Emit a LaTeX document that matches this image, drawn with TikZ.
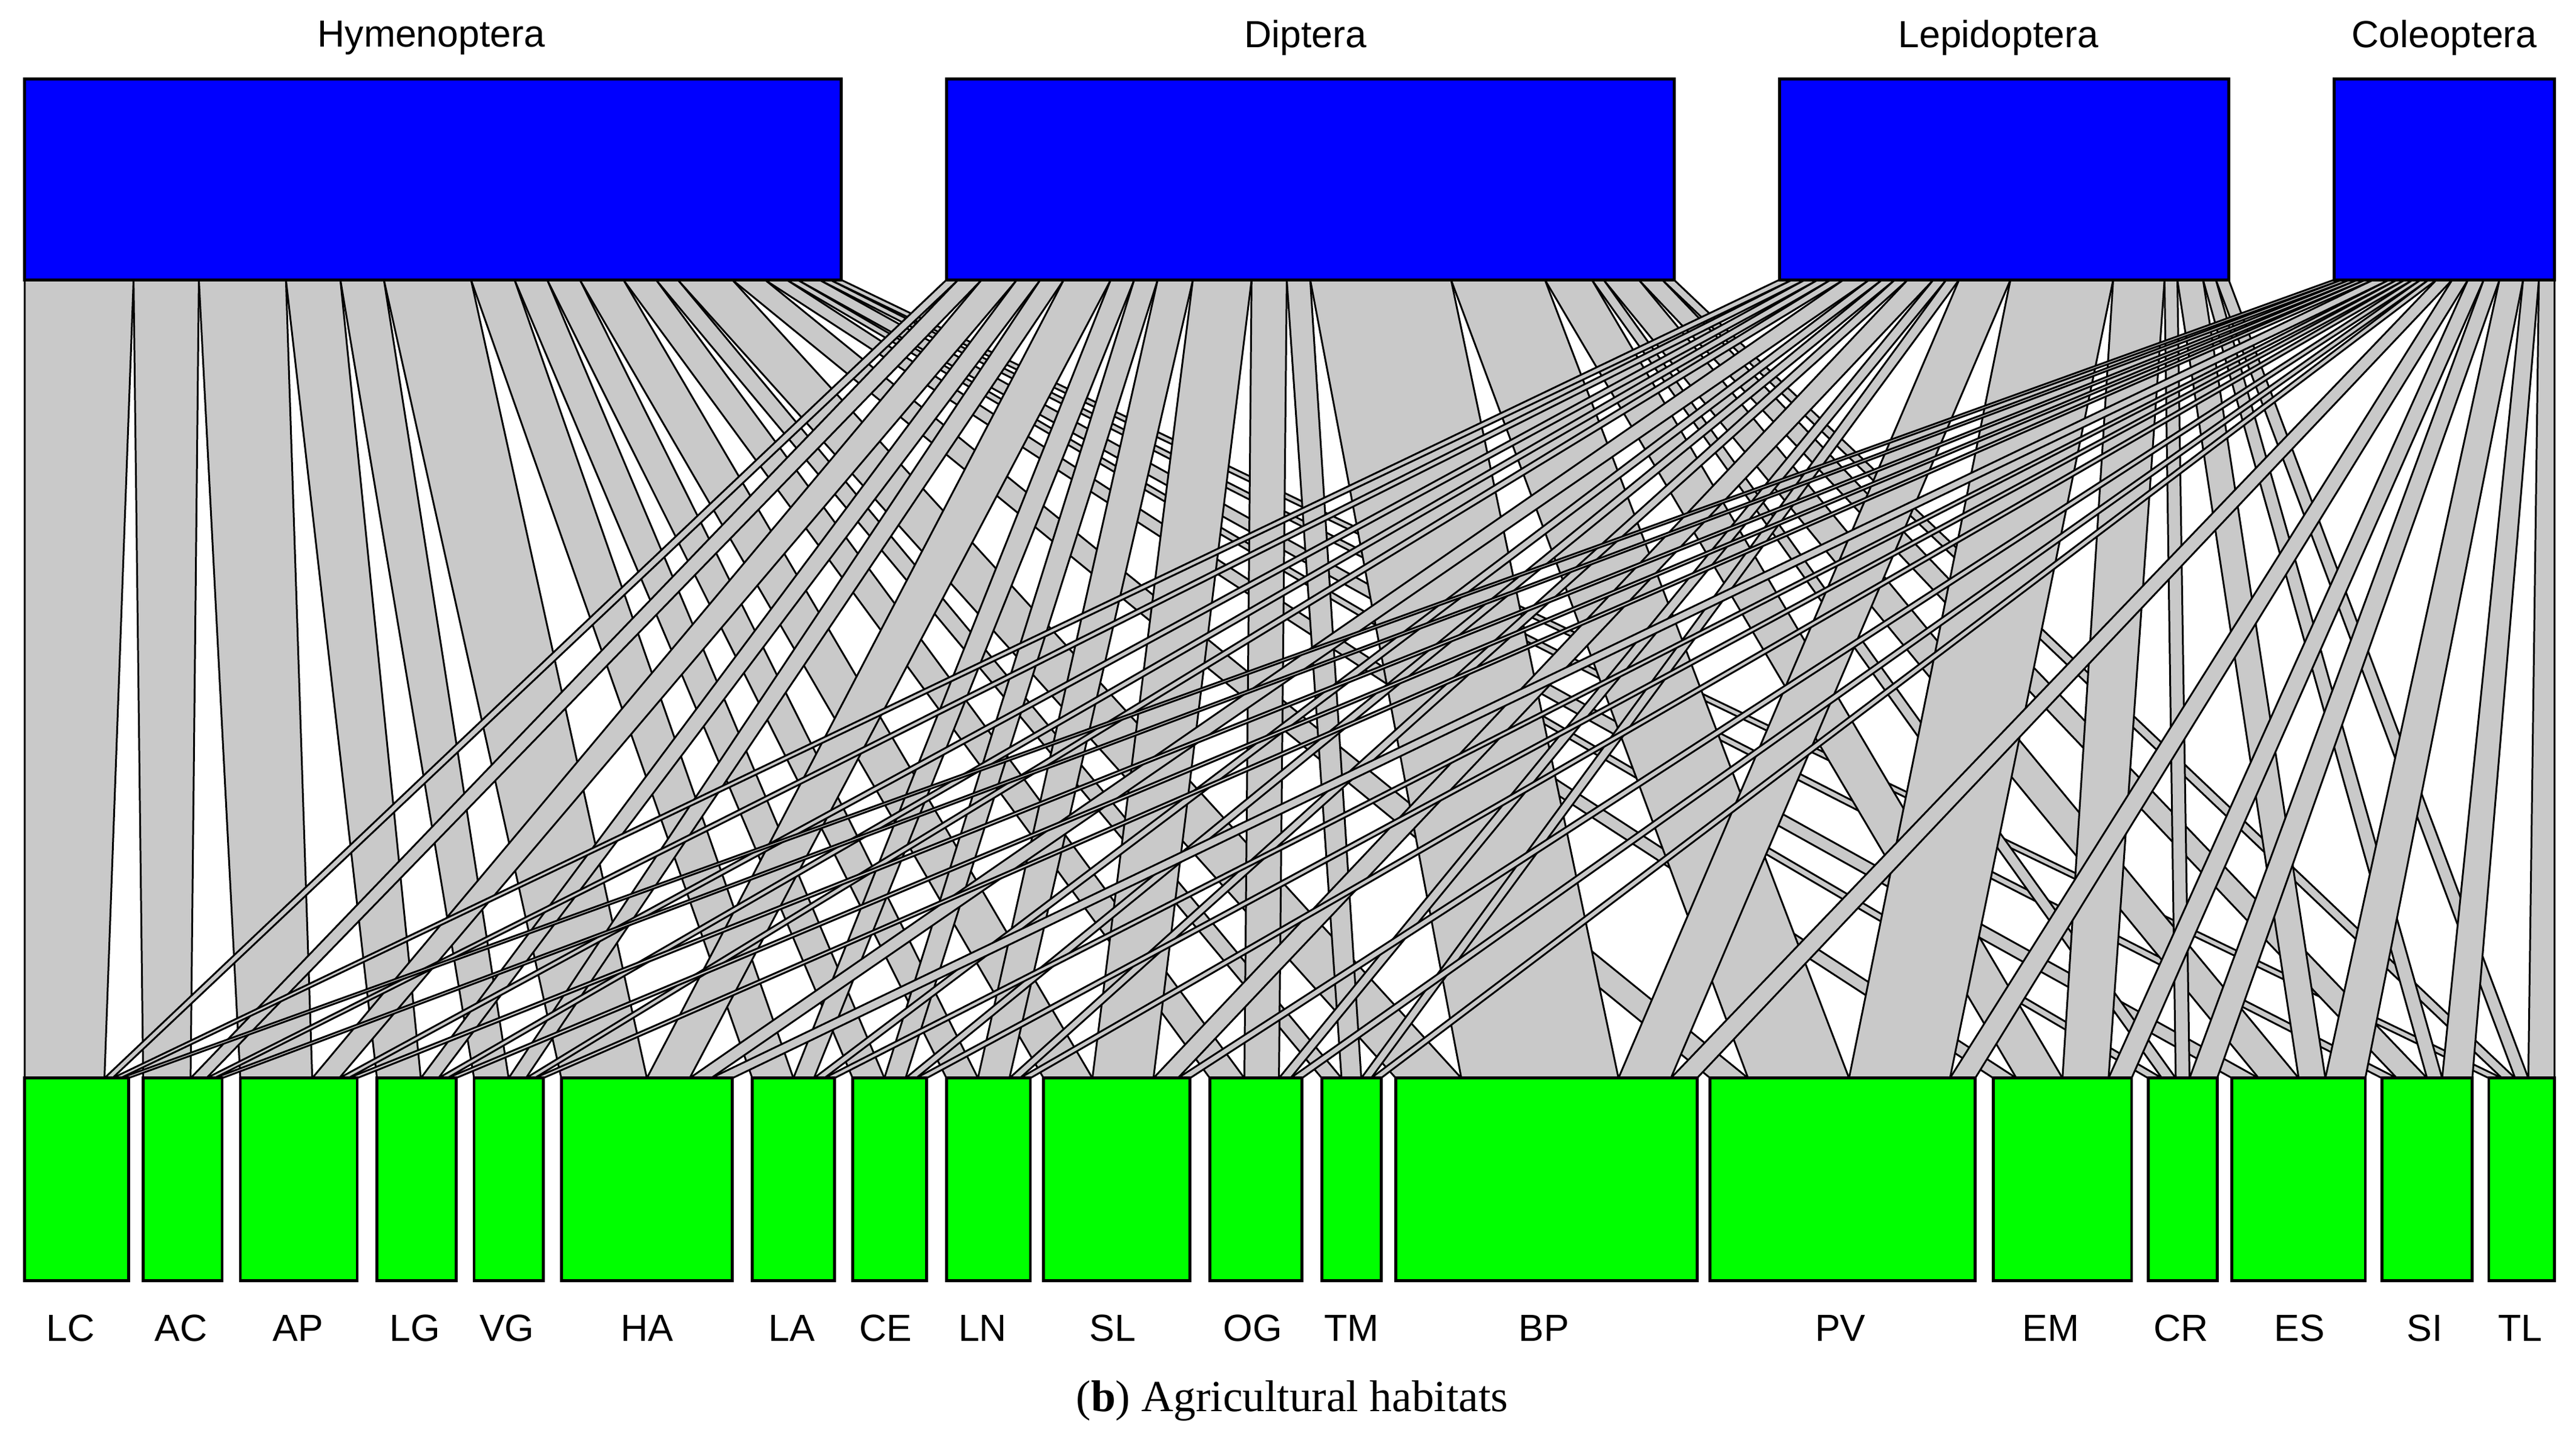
\documentclass[tikz,border=0pt]{standalone}
\usepackage{fontspec}
\setmainfont{Liberation Serif}
\newfontfamily\lab{Liberation Sans}
\begin{document}
\begin{tikzpicture}[x=1pt,y=-1pt,
  link/.style={fill=black!21,draw=black,line width=1.1pt},
  topbox/.style={draw=black,line width=1.8pt,fill={rgb,255:red,0;green,0;blue,255},inner sep=0pt,minimum height=122pt},
  botbox/.style={draw=black,line width=1.8pt,fill={rgb,255:red,0;green,255;blue,0},inner sep=0pt,minimum height=123pt},
  lbl/.style={font=\lab\fontsize{23}{26}\selectfont,inner sep=0pt}]
\useasboundingbox (0,0) rectangle (1565,876);
\def\Wt{{10,1,1,1, 6,2,1,1, 8,3,1,1, 5,2,1,1, 4,2,1,1, 8,4,2,2, 4,2,1,1, 3,2,1,1, 3,3,1,1, 4,5,2,1, 3,3,1,1, 2,2,1,1, 5,12,4,2, 3,8,8,2, 2,4,4,2, 1,1,1,2, 2,3,2,3, 1,2,1,2, 1,1,1,2}}
\def\BL{{15,87,146,229,288,341,457,518,575,634,735,803,848,1039,1211,1305,1356,1447,1512}}
\def\BR{{78,135,217,277,330,445,507,563,626,723,791,839,1031,1200,1295,1347,1437,1502,1552}}
\def\TL{{15,575,1081,1418}}
\def\TR{{511,1017,1354,1552}}
\foreach \j in {0,...,18}{\xdef\s{0}
  \foreach \i in {0,...,3}{\pgfmathsetmacro\t{\s+\Wt[\j*4+\i]}\xdef\s{\t}}
  \expandafter\xdef\csname cs\j\endcsname{\s}}
\foreach \i in {0,...,3}{\xdef\s{0}
  \foreach \j in {0,...,18}{\pgfmathsetmacro\t{\s+\Wt[\j*4+\i]}\xdef\s{\t}}
  \expandafter\xdef\csname rs\i\endcsname{\s}}
\foreach \j in {0,...,18}{\pgfmathsetmacro\c{\BL[\j]}\xdef\cur{\c}
  \pgfmathsetmacro\wd{\BR[\j]-\BL[\j]}\xdef\wdd{\wd}
  \edef\cs{\csname cs\j\endcsname}
  \foreach \i in {0,...,3}{\pgfmathsetmacro\n{\cur+\wdd*\Wt[\j*4+\i]/\cs}
    \expandafter\xdef\csname bl\i-\j\endcsname{\cur}
    \expandafter\xdef\csname br\i-\j\endcsname{\n}\xdef\cur{\n}}}
\foreach \i in {0,...,3}{\pgfmathsetmacro\c{\TL[\i]}\xdef\cur{\c}
  \pgfmathsetmacro\wd{\TR[\i]-\TL[\i]}\xdef\wdd{\wd}
  \edef\rs{\csname rs\i\endcsname}
  \foreach \j in {0,...,18}{\pgfmathsetmacro\n{\cur+\wdd*\Wt[\j*4+\i]/\rs}
    \expandafter\xdef\csname tl\i-\j\endcsname{\cur}
    \expandafter\xdef\csname tr\i-\j\endcsname{\n}\xdef\cur{\n}}}
\foreach \i in {0,...,3}{\foreach \j in {0,...,18}{
  \edef\a{\csname tl\i-\j\endcsname}\edef\b{\csname tr\i-\j\endcsname}
  \edef\c{\csname br\i-\j\endcsname}\edef\d{\csname bl\i-\j\endcsname}
  \draw[link] (\a,170) -- (\b,170) -- (\c,655) -- (\d,655) -- cycle;}}
\foreach \n/\l/\r/\x in {Hymenoptera/15/511/262,Diptera/575/1017/793,Lepidoptera/1081/1354/1214,Coleoptera/1418/1552/1485}{
  \node[topbox,minimum width={\r-\l}] (\n) at ({(\l+\r)/2},109) {};
  \node[lbl] (\n-t) at (\x,23) {\n};}
\foreach \n/\l/\r/\x in {LC/15/78/43,AC/87/135/110,AP/146/217/181,LG/229/277/252,VG/288/330/308,HA/341/445/393,LA/457/507/481,CE/518/563/538,LN/575/626/597,SL/634/723/676,OG/735/791/761,TM/803/839/821,BP/848/1031/938,PV/1039/1200/1118,EM/1211/1295/1246,CR/1305/1347/1325,ES/1356/1437/1397,SI/1447/1502/1473,TL/1512/1552/1531}{
  \node[botbox,minimum width={\r-\l}] (\n) at ({(\l+\r)/2},716.5) {};
  \node[lbl] (\n-t) at (\x,807) {\n};}
\node[font=\fontsize{27}{30}\selectfont,inner sep=0pt] (cap) at (785,851) {(\textbf{b}) Agricultural habitats};
\end{tikzpicture}
\end{document}
